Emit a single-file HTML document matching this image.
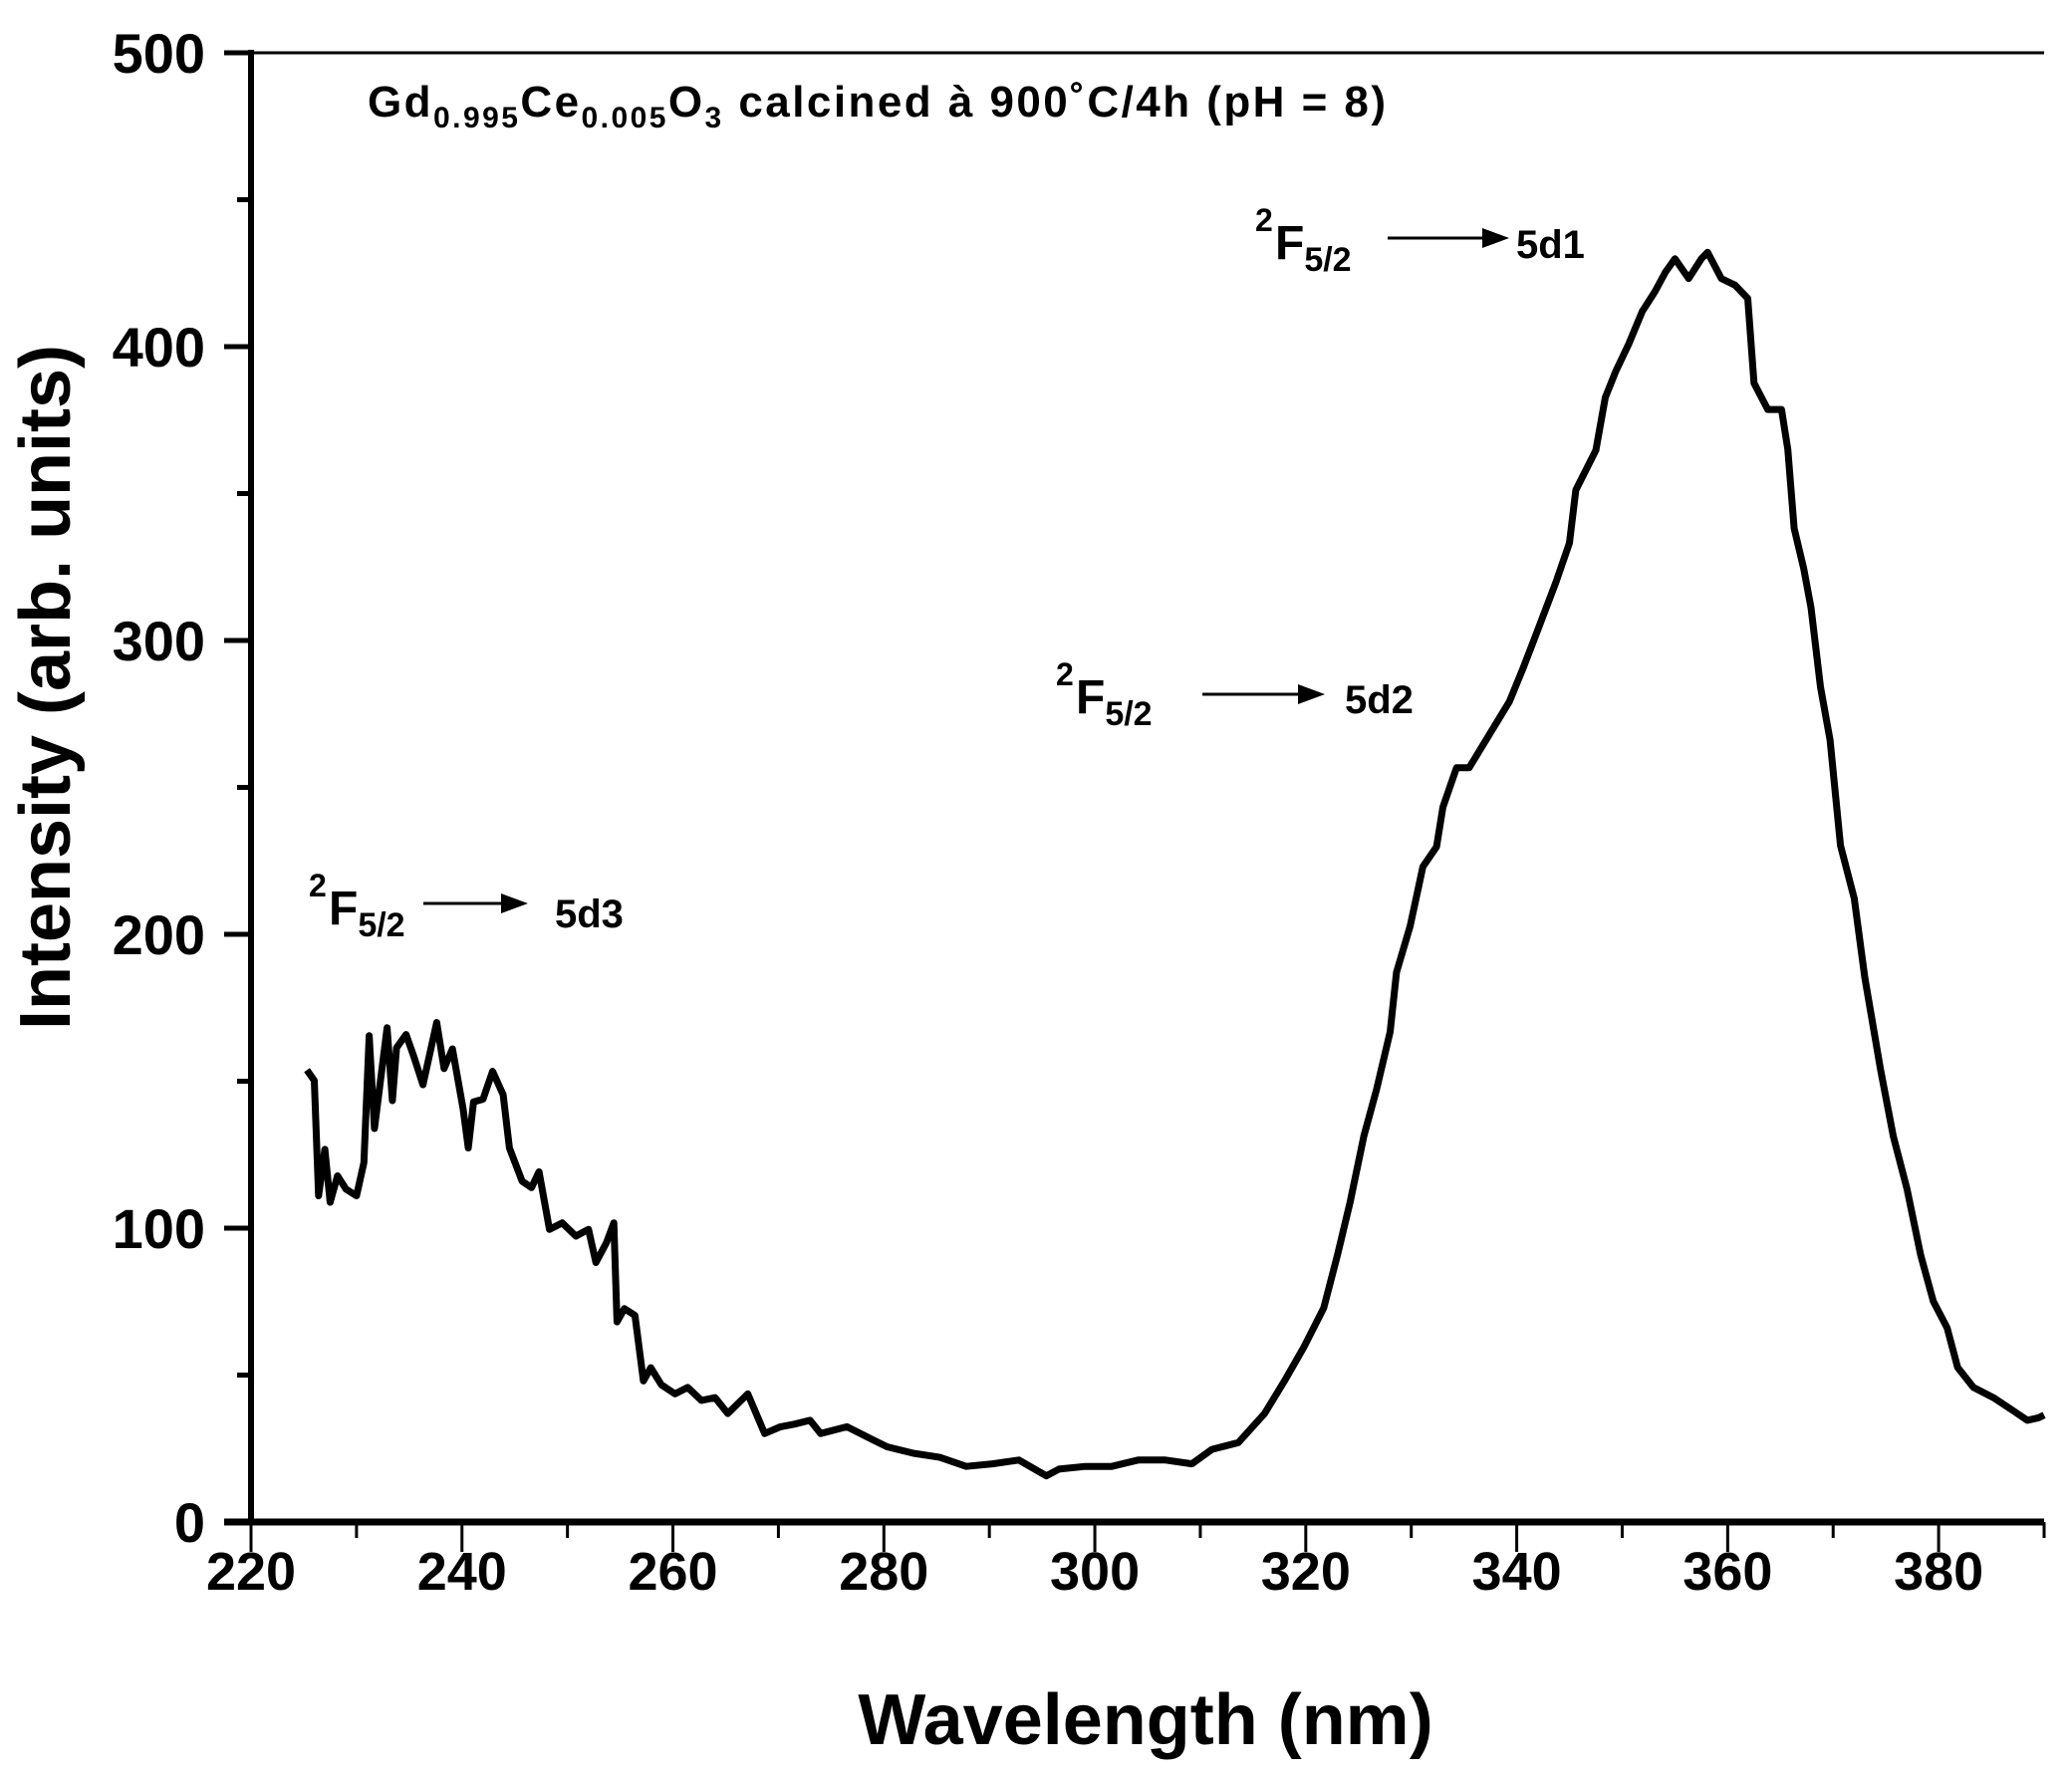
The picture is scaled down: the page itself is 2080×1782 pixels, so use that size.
<!DOCTYPE html>
<html><head><meta charset="utf-8"><style>
html,body{margin:0;padding:0;background:#fff}
svg{display:block}
text{font-family:"Liberation Sans",Arial,sans-serif}
</style></head><body>
<svg id="chart" width="2080" height="1782" viewBox="0 0 2080 1782" xmlns="http://www.w3.org/2000/svg">
<g id="axes"></g>
<path id="curve" fill="none" stroke="#000" stroke-width="7" stroke-linejoin="round"/>
<text x="369" y="117" font-size="44" font-weight="bold" textLength="1022" lengthAdjust="spacing">Gd<tspan font-size="30" dy="11">0.995</tspan><tspan dy="-11">Ce</tspan><tspan font-size="30" dy="11">0.005</tspan><tspan dy="-11">O</tspan><tspan font-size="30" dy="11">3</tspan><tspan dy="-11"> calcined à 900˚C/4h  (pH = 8)</tspan></text>
<g font-weight="bold">
<text x="1260" y="232" font-size="32">2</text><text x="1280" y="260" font-size="48">F<tspan font-size="34" dy="12">5/2</tspan></text>
<line x1="1393" y1="239" x2="1490" y2="239" stroke="#000" stroke-width="3"/><polygon points="1488,229 1515,239 1488,249"/>
<text x="1522" y="259" font-size="40">5d1</text></g>
<g font-weight="bold">
<text x="1060" y="688" font-size="32">2</text><text x="1080" y="716" font-size="48">F<tspan font-size="34" dy="12">5/2</tspan></text>
<line x1="1207" y1="697" x2="1305" y2="697" stroke="#000" stroke-width="3"/><polygon points="1303,687 1330,697 1303,707"/>
<text x="1350" y="716" font-size="40">5d2</text></g>
<g font-weight="bold">
<text x="310" y="900" font-size="32">2</text><text x="330" y="928" font-size="48">F<tspan font-size="34" dy="12">5/2</tspan></text>
<line x1="425" y1="907" x2="505" y2="907" stroke="#000" stroke-width="3"/><polygon points="503,897 530,907 503,917"/>
<text x="557" y="931" font-size="40">5d3</text></g>
<text x="1150" y="1751" font-size="72" font-weight="bold" text-anchor="middle">Wavelength (nm)</text>
<text transform="translate(70,690) rotate(-90)" font-size="72" font-weight="bold" text-anchor="middle">Intensity (arb. units)</text>
</svg>
<script>
const wavelengths=[225.3,226.0,226.4,227.0,227.5,228.2,229.0,230.0,230.7,231.2,231.7,232.9,233.4,233.8,234.7,235.4,236.3,237.6,238.3,239.1,240.1,240.6,241.1,242.0,242.9,243.9,244.5,245.7,246.6,247.3,248.3,249.5,250.8,252.0,252.7,253.7,254.4,254.7,255.4,256.4,257.2,257.9,258.9,260.2,261.4,262.7,264.0,265.2,267.1,268.7,270.2,271.5,273.0,274.0,276.5,279.0,280.3,282.8,285.3,287.8,290.3,292.8,295.4,296.6,299.1,301.6,304.1,306.7,309.2,311.1,313.6,316.1,318.0,319.8,321.7,323.0,324.2,325.5,326.7,328.0,328.6,329.9,331.1,332.4,333.0,334.3,335.5,337.4,339.3,340.6,341.8,343.7,345.0,345.6,347.5,348.4,349.4,350.6,351.9,353.1,354.1,355.0,356.3,357.5,358.1,359.4,360.7,361.9,362.5,363.8,365.1,365.7,366.3,367.2,367.9,368.8,369.7,370.7,372.0,373.0,374.5,375.7,377.0,378.3,379.5,380.8,381.8,383.3,385.2,387.1,388.4,389.5,390.0];
const intensities=[153.8,150.2,111.0,126.8,108.8,117.8,113.3,111.0,122.3,165.5,133.9,168.2,143.4,161.4,165.9,158.7,148.8,170.0,154.3,161.0,140.8,127.3,143.0,143.9,153.4,145.4,127.3,116.0,113.8,119.2,99.6,101.8,97.3,99.6,88.3,95.1,101.8,68.1,72.6,70.3,48.0,52.5,46.7,43.6,45.8,41.4,42.3,36.9,43.6,30.1,32.4,33.3,34.6,30.1,32.4,27.9,25.6,23.4,22.0,18.9,19.8,21.1,15.7,18.0,18.9,18.9,21.1,21.1,19.8,24.7,27.0,36.9,48.1,59.4,72.8,90.8,108.8,131.3,147.1,166.8,187.1,202.8,223.0,229.8,243.3,256.7,256.7,268.0,279.2,290.5,301.7,319.7,333.2,351.2,364.7,382.7,391.7,400.7,412.0,418.7,425.4,429.9,423.2,429.9,432.1,423.2,420.9,416.4,387.6,378.6,378.6,365.1,338.1,324.6,311.2,284.2,266.2,230.2,212.2,185.3,153.8,131.3,113.3,90.8,75.1,66.1,52.6,45.8,42.3,37.8,34.6,35.5,36.4];
const xTicks=[220,240,260,280,300,320,340,360,380];
const yTicks=[0,100,200,300,400,500];
const X0=252,X1=2052,Y0=1528,Y1=53,xmin=220,xmax=390,ymin=0,ymax=500;
function sx(v){return X0+(v-xmin)/(xmax-xmin)*(X1-X0);}
function sy(v){return Y0-(v-ymin)/(ymax-ymin)*(Y0-Y1);}
const NS="http://www.w3.org/2000/svg";
const ax=document.getElementById('axes');
function mk(tag,attrs){const e=document.createElementNS(NS,tag);for(const k in attrs)e.setAttribute(k,attrs[k]);ax.appendChild(e);return e;}
let e;
e=mk('line',{x1:X0,y1:Y1,x2:X1,y2:Y1,stroke:'#000','stroke-width':3});


e=mk('line',{x1:X0,y1:Y1-3,x2:X0,y2:Y0+3,stroke:'#000','stroke-width':6});


e=mk('line',{x1:X0-27,y1:Y0,x2:X1,y2:Y0,stroke:'#000','stroke-width':7});


for(let v=xmin;v<=xmax;v+=10){const major=(v%20===0);
e=mk('line',{x1:sx(v),y1:Y0,x2:sx(v),y2:Y0+(major?30:16),stroke:'#000','stroke-width':3});

}
xTicks.forEach(v=>{e=mk('text',{x:sx(v),y:1596,'font-size':54,'font-weight':'bold','text-anchor':'middle'});e.textContent=v;

});
for(let v=ymin;v<=ymax;v+=50){const major=(v%100===0);
e=mk('line',{x1:X0-(major?27:14),y1:sy(v),x2:X0,y2:sy(v),stroke:'#000','stroke-width':5});

}
yTicks.forEach(v=>{e=mk('text',{x:206,y:sy(v)+20,'font-size':56,'font-weight':'bold','text-anchor':'end'});e.textContent=v;

});
document.getElementById('curve').setAttribute('d',wavelengths.map((w,i)=>(i?'L':'M')+sx(w).toFixed(1)+','+sy(intensities[i]).toFixed(1)).join(''));
</script>
</body></html>
